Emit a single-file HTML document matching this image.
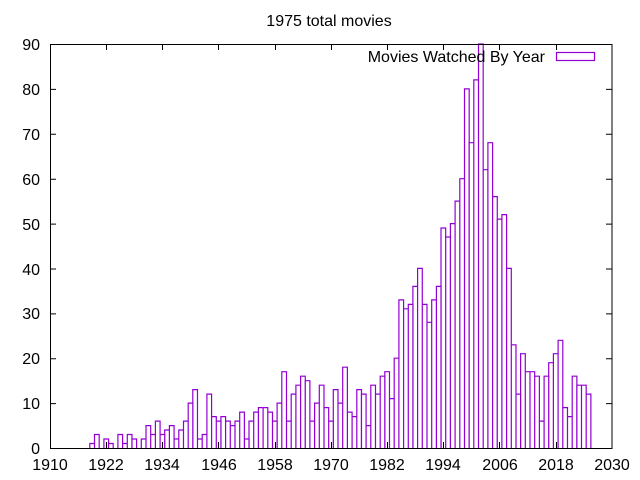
<!DOCTYPE html>
<html><head><meta charset="utf-8"><style>
html,body{margin:0;padding:0;background:#fff;}
svg{display:block;font-family:"Liberation Sans",sans-serif;font-size:16px;}
</style></head><body>
<svg width="640" height="480" viewBox="0 0 640 480" xmlns="http://www.w3.org/2000/svg">
<rect width="640" height="480" fill="#fff"/>
<text x="329" y="26" text-anchor="middle">1975 total movies</text>
<path fill="none" stroke="#9400d3" stroke-width="1.2" d="
M89.8,448V443.5h4.68V448 M94.5,448V434.5h4.68V448 M103.9,448V439h4.68V448 M108.5,448V443.5h4.68V448
M117.9,448V434.5h4.68V448 M122.6,448V443.5h4.68V448 M127.3,448V434.5h4.68V448 M131.9,448V439h4.68V448
M141.3,448V439h4.68V448 M146,448V425.6h4.68V448 M150.7,448V434.5h4.68V448 M155.4,448V421.1h4.68V448
M160.1,448V434.5h4.68V448 M164.7,448V430h4.68V448 M169.4,448V425.6h4.68V448 M174.1,448V439h4.68V448
M178.8,448V430h4.68V448 M183.5,448V421.1h4.68V448 M188.2,448V403.1h4.68V448 M192.8,448V389.6h4.68V448
M197.5,448V439h4.68V448 M202.2,448V434.5h4.68V448 M206.9,448V394.1h4.68V448 M211.6,448V416.6h4.68V448
M216.3,448V421.1h4.68V448 M220.9,448V416.6h4.68V448 M225.6,448V421.1h4.68V448 M230.3,448V425.6h4.68V448
M235,448V421.1h4.68V448 M239.7,448V412.1h4.68V448 M244.4,448V439h4.68V448 M249,448V421.1h4.68V448
M253.7,448V412.1h4.68V448 M258.4,448V407.6h4.68V448 M263.1,448V407.6h4.68V448 M267.8,448V412.1h4.68V448
M272.5,448V421.1h4.68V448 M277.1,448V403.1h4.68V448 M281.8,448V371.7h4.68V448 M286.5,448V421.1h4.68V448
M291.2,448V394.1h4.68V448 M295.9,448V385.2h4.68V448 M300.6,448V376.2h4.68V448 M305.2,448V380.7h4.68V448
M309.9,448V421.1h4.68V448 M314.6,448V403.1h4.68V448 M319.3,448V385.2h4.68V448 M324,448V407.6h4.68V448
M328.7,448V421.1h4.68V448 M333.3,448V389.6h4.68V448 M338,448V403.1h4.68V448 M342.7,448V367.2h4.68V448
M347.4,448V412.1h4.68V448 M352.1,448V416.6h4.68V448 M356.8,448V389.6h4.68V448 M361.4,448V394.1h4.68V448
M366.1,448V425.6h4.68V448 M370.8,448V385.2h4.68V448 M375.5,448V394.1h4.68V448 M380.2,448V376.2h4.68V448
M384.8,448V371.7h4.68V448 M389.5,448V398.6h4.68V448 M394.2,448V358.2h4.68V448 M398.9,448V299.9h4.68V448
M403.6,448V308.8h4.68V448 M408.3,448V304.4h4.68V448 M412.9,448V286.4h4.68V448 M417.6,448V268.4h4.68V448
M422.3,448V304.4h4.68V448 M427,448V322.3h4.68V448 M431.7,448V299.9h4.68V448 M436.4,448V286.4h4.68V448
M441,448V228h4.68V448 M445.7,448V237h4.68V448 M450.4,448V223.6h4.68V448 M455.1,448V201.1h4.68V448
M459.8,448V178.7h4.68V448 M464.5,448V88.9h4.68V448 M469.1,448V142.7h4.68V448 M473.8,448V79.9h4.68V448
M478.5,448V44h4.68V448 M483.2,448V169.7h4.68V448 M487.9,448V142.7h4.68V448 M492.6,448V196.6h4.68V448
M497.2,448V219.1h4.68V448 M501.9,448V214.6h4.68V448 M506.6,448V268.4h4.68V448 M511.3,448V344.8h4.68V448
M516,448V394.1h4.68V448 M520.6,448V353.7h4.68V448 M525.3,448V371.7h4.68V448 M530,448V371.7h4.68V448
M534.7,448V376.2h4.68V448 M539.4,448V421.1h4.68V448 M544.1,448V376.2h4.68V448 M548.7,448V362.7h4.68V448
M553.4,448V353.7h4.68V448 M558.1,448V340.3h4.68V448 M562.8,448V407.6h4.68V448 M567.5,448V416.6h4.68V448
M572.2,448V376.2h4.68V448 M576.8,448V385.2h4.68V448 M581.5,448V385.2h4.68V448 M586.2,448V394.1h4.68V448"/>
<path fill="none" stroke="#000" stroke-width="1" d="
M50,403.6h6M50,358.8h6M50,313.9h6M50,269h6M50,224.1h6M50,179.2h6M50,134.3h6M50,89.4h6
M612,403.6h-6M612,358.8h-6M612,313.9h-6M612,269h-6M612,224.1h-6M612,179.2h-6M612,134.3h-6M612,89.4h-6
M106.5,448v-6M162.5,448v-6M218.5,448v-6M275.5,448v-6M331.5,448v-6M387.5,448v-6M443.5,448v-6M499.5,448v-6M556.5,448v-6
M106.5,44v6M162.5,44v6M218.5,44v6M275.5,44v6M331.5,44v6M387.5,44v6M443.5,44v6M499.5,44v6M556.5,44v6"/>
<rect x="50.5" y="44.5" width="561.5" height="404" fill="none" stroke="#000" stroke-width="1"/>
<g text-anchor="end">
<text x="40" y="454">0</text><text x="40" y="409">10</text><text x="40" y="364">20</text>
<text x="40" y="319">30</text><text x="40" y="275">40</text><text x="40" y="230">50</text>
<text x="40" y="185">60</text><text x="40" y="140">70</text><text x="40" y="95">80</text>
<text x="40" y="50">90</text>
</g>
<g text-anchor="middle">
<text x="50" y="470">1910</text><text x="106" y="470">1922</text><text x="162" y="470">1934</text>
<text x="219" y="470">1946</text><text x="275" y="470">1958</text><text x="331" y="470">1970</text>
<text x="387" y="470">1982</text><text x="443" y="470">1994</text><text x="500" y="470">2006</text>
<text x="556" y="470">2018</text><text x="612" y="470">2030</text>
</g>
<text x="545" y="62" text-anchor="end">Movies Watched By Year</text>
<rect x="556.5" y="52.5" width="38" height="8" fill="none" stroke="#9400d3" stroke-width="1.2"/>
</svg>
</body></html>
